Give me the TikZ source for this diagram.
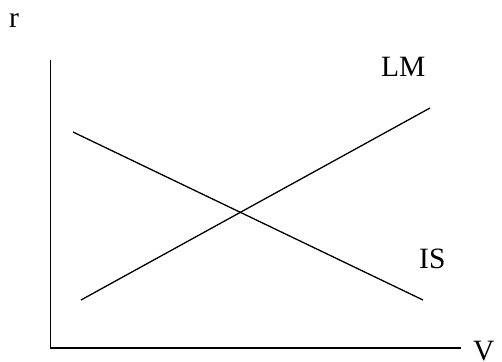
\documentclass[tikz,border=0pt]{standalone}
\usepackage{fontspec}
\setmainfont{Liberation Serif}
\begin{document}
\begin{tikzpicture}[x=1pt,y=-1pt,
  lbl/.style={anchor=base west,inner sep=0pt,font=\fontsize{29.5}{32}\selectfont},
  ln/.style={line width=1.3pt}]
\useasboundingbox (0,0) rectangle (502,361);
\coordinate (top) at (50.5,60);
\coordinate (org) at (50.5,348);
\coordinate (xend) at (461,348);
\draw[ln] (top) -- (org) -- (xend);
\coordinate (lm1) at (81,300);
\coordinate (lm2) at (430,108);
\coordinate (is1) at (73,132);
\coordinate (is2) at (423,300);
\draw[ln] (lm1) -- (lm2);
\draw[ln] (is1) -- (is2);
\node[lbl] (r) at (9,28) {r};
\node[lbl] (LM) at (381,76) {LM};
\node[lbl] (IS) at (419,268) {IS};
\node[lbl] (V) at (473,360) {V};
\end{tikzpicture}
\end{document}
